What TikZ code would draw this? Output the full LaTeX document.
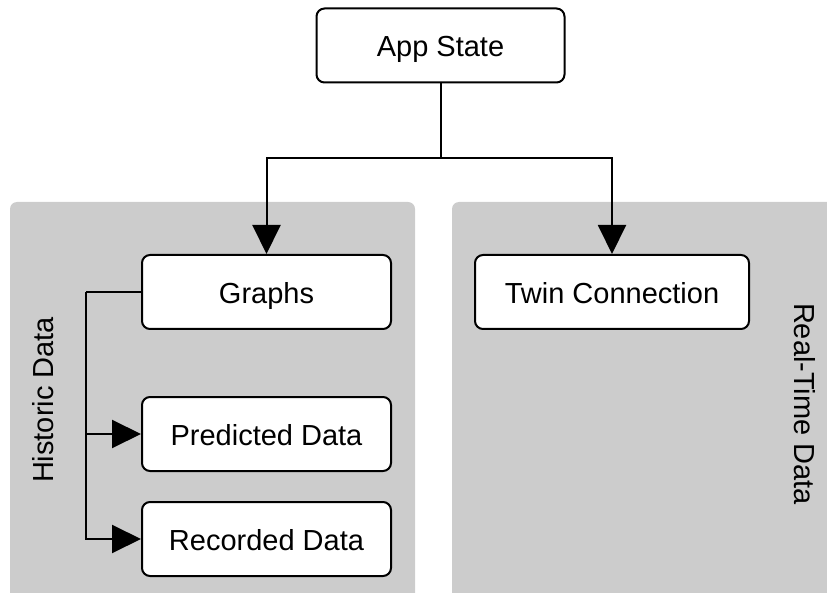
\documentclass[tikz,border=0pt]{standalone}
\usepackage{fontspec}
\setmainfont{Liberation Sans}
\usetikzlibrary{arrows.meta}
\definecolor{panelgray}{HTML}{CCCCCC}
\tikzset{
  box/.style={draw=black, line width=2pt, fill=white, rounded corners=8pt,
    inner sep=0pt, text height=22.8pt, text depth=0pt,
    font=\fontsize{29}{32}\selectfont},
  panel/.style={fill=panelgray, rounded corners=7pt},
  link/.style={line width=2pt, -{Triangle[length=29pt,width=28pt]}},
  plainlink/.style={line width=2pt},
  side/.style={font=\fontsize{29}{32}\selectfont}
}
\begin{document}
\begin{tikzpicture}[x=1pt,y=-1pt]
  \useasboundingbox (0,0) rectangle (827,593);
  % background panels
  \fill[panel] (10,202) rectangle (415,605);
  \fill[panel] (452,202) rectangle (840,605);
  % boxes
  \node[box, minimum width=248pt, minimum height=74pt] (app) at (440.5,45.5) {App State};
  \node[box, minimum width=249pt, minimum height=74pt] (graphs) at (266.5,292) {Graphs};
  \node[box, minimum width=274pt, minimum height=74pt] (twin) at (612,292) {Twin Connection};
  \node[box, minimum width=249pt, minimum height=74pt] (pred) at (266.5,434) {Predicted Data};
  \node[box, minimum width=249pt, minimum height=74pt] (rec) at (266.5,539) {Recorded Data};
  % side labels
  \node[side, rotate=90] (hist) at (43,400) {Historic Data};
  \node[side, rotate=-90] (real) at (805,404) {Real-Time Data};
  % connectors
  \coordinate (split) at (440.5,158);
  \coordinate (branch) at (86,292);
  \draw[plainlink] (app.south) -- (split);
  \draw[link] (split) -| (graphs.north);
  \draw[link] (split) -| (twin.north);
  \draw[plainlink] (graphs.west) -- (branch);
  \draw[link] (branch) |- (pred.west);
  \draw[link] (branch) |- (rec.west);
\end{tikzpicture}
\end{document}
